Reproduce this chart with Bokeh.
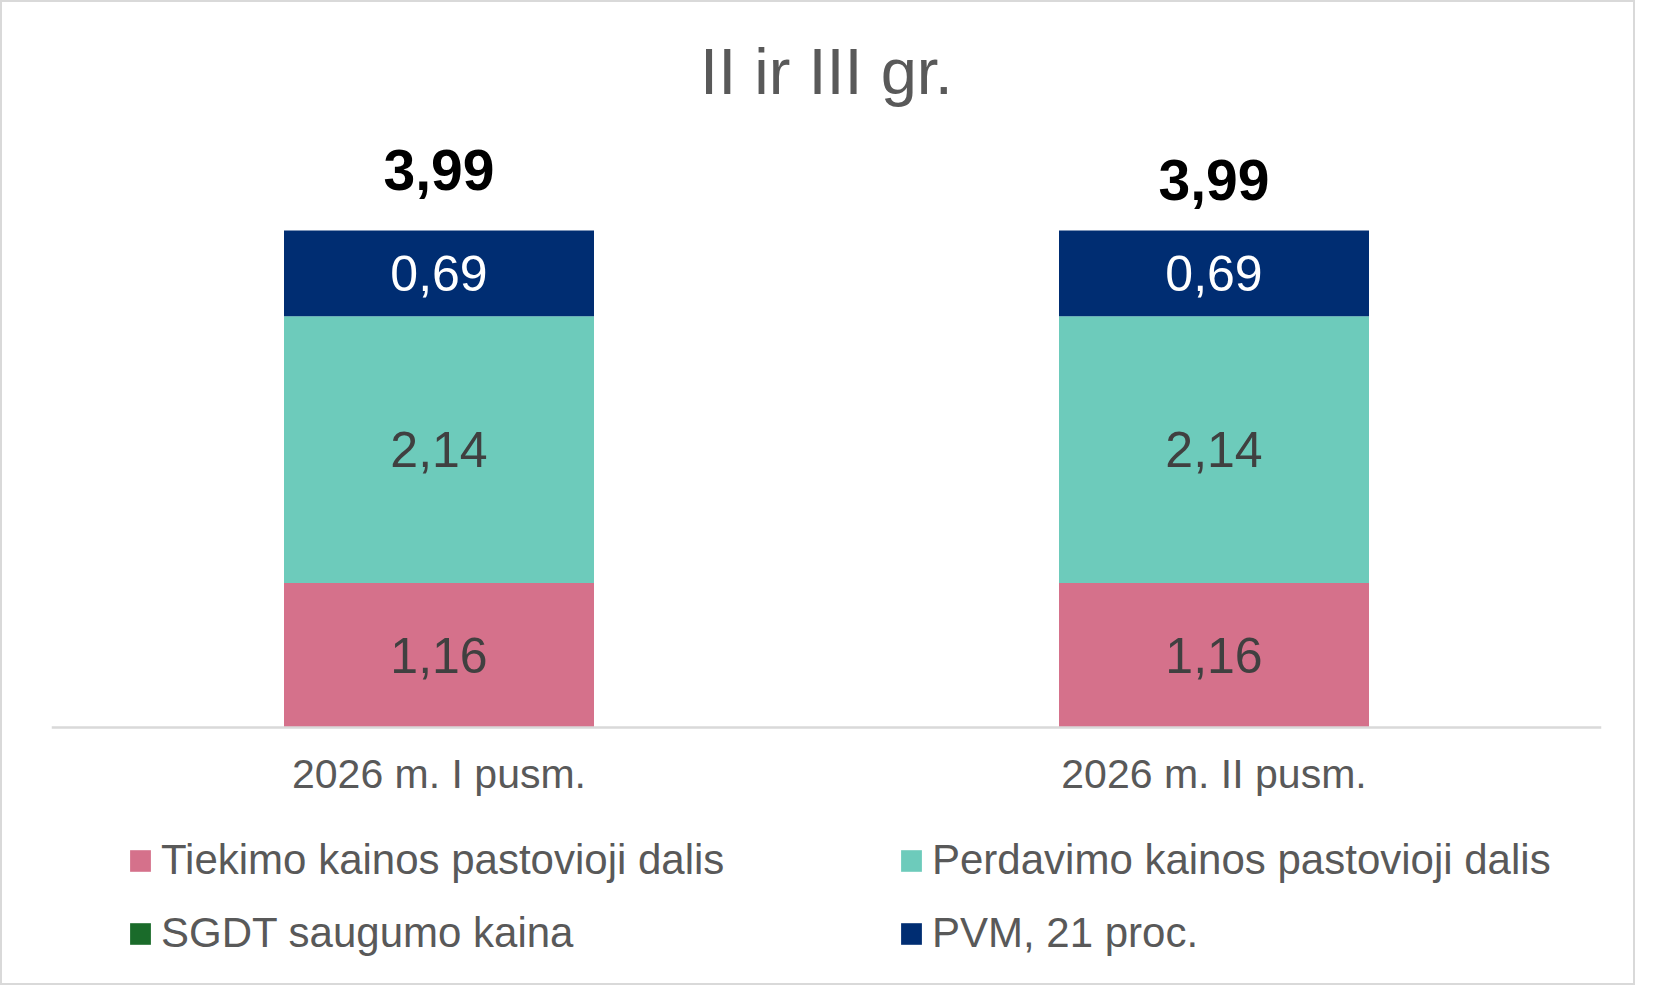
from bokeh.plotting import figure
from bokeh.models import ColumnDataSource, FactorRange, Range1d, Legend, LegendItem
from bokeh.core.properties import value
from bokeh.embed import file_html
from bokeh.resources import INLINE

# ---- data ----
categories = ["2026 m. I pusm.", "2026 m. II pusm."]
series_names = [
    "Tiekimo kainos pastovioji dalis",
    "Perdavimo kainos pastovioji dalis",
    "SGDT saugumo kaina",
    "PVM, 21 proc.",
]
tiekimo = [1.16, 1.16]
perdavimo = [2.14, 2.14]
sgdt = [0.0, 0.0]
pvm = [0.69, 0.69]

# ---- styles ----
FONT = "Liberation Sans"
colors = ["#D5718B", "#6DCBBB", "#1A6B2A", "#002D72"]
label_colors = ["#404040", "#404040", "#FFFFFF", "#FFFFFF"]
total_label_offsets = [-60, -50]

keys = ["tiekimo", "perdavimo", "sgdt", "pvm"]
series = [tiekimo, perdavimo, sgdt, pvm]
src = ColumnDataSource(dict(cat=categories, tiekimo=tiekimo, perdavimo=perdavimo, sgdt=sgdt, pvm=pvm))

p = figure(
    x_range=FactorRange(factors=categories, range_padding=0),
    y_range=Range1d(-2.087, 4.872),
    width=1635, height=985,
    output_backend="svg", toolbar_location=None,
    min_border_left=49, min_border_right=36, min_border_top=118, min_border_bottom=0,
    styles={"border": "2px solid #D9D9D9"},
)
p.background_fill_color = "white"
p.border_fill_color = "white"
p.outline_line_color = None
p.xgrid.grid_line_color = None
p.ygrid.grid_line_color = None
p.yaxis.visible = False

p.title.text = "II ir III gr."
p.title.align = "center"
p.title.text_font = FONT
p.title.text_font_size = "65px"
p.title.text_font_style = "normal"
p.title.text_color = "#595959"
p.title.standoff = 26

ax = p.xaxis[0]
ax.fixed_location = 0
ax.axis_line_color = "#D9D9D9"
ax.axis_line_width = 2.5
ax.major_tick_line_color = None
ax.minor_tick_line_color = None
ax.major_label_text_font = FONT
ax.major_label_text_font_size = "41px"
ax.major_label_text_color = "#595959"
ax.major_label_standoff = 18

rs = p.vbar_stack(keys, x="cat", width=0.4, color=colors, line_color=None, source=src)

# segment labels
lx, ly, lt, lc = [], [], [], []
bottoms = [0.0] * len(categories)
for s, col in zip(series, label_colors):
    for i, v in enumerate(s):
        if v > 0:
            lx.append(categories[i])
            ly.append(bottoms[i] + v / 2)
            lt.append(f"{v:.2f}".replace(".", ","))
            lc.append(col)
        bottoms[i] += v
lsrc = ColumnDataSource(dict(x=lx, y=ly, t=lt, c=lc))
p.text(x="x", y="y", text="t", text_color="c", source=lsrc,
       text_font=value(FONT), text_font_size="50px",
       text_align="center", text_baseline="middle")

# totals
tsrc = ColumnDataSource(dict(
    x=categories, y=bottoms,
    t=[f"{v:.2f}".replace(".", ",") for v in bottoms],
    off=total_label_offsets,
))
p.text(x="x", y="y", text="t", source=tsrc, y_offset="off",
       text_font=value(FONT), text_font_size="57px", text_font_style="bold",
       text_color="black", text_align="center", text_baseline="alphabetic")

def make_legend(idx, loc):
    leg = Legend(
        items=[LegendItem(label=series_names[i], renderers=[rs[i]]) for i in idx],
        location=loc, orientation="vertical",
        glyph_width=26, glyph_height=27, label_standoff=8, spacing=25,
        padding=0, margin=0, border_line_color=None, background_fill_alpha=0,
        label_text_font=FONT, label_text_font_size="42px", label_text_color="#595959",
    )
    return leg

p.add_layout(make_legend([0, 2], (76, 30)), "center")
p.add_layout(make_legend([1, 3], (847, 30)), "center")

open("out.html", "w").write(file_html(p, INLINE))
